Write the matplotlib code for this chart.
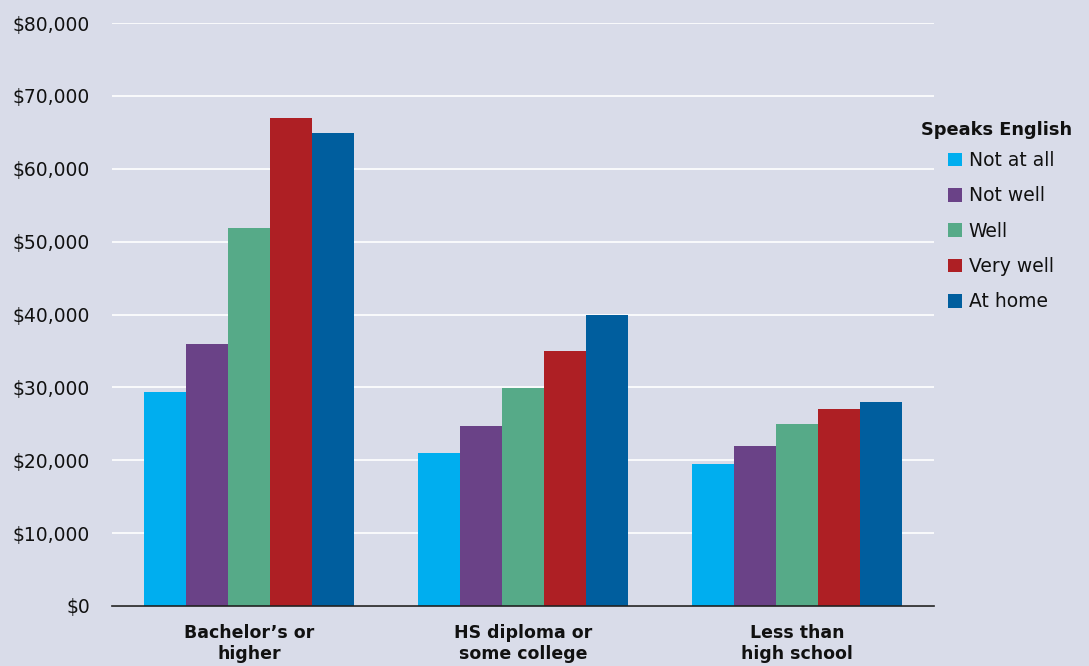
import numpy as np
import matplotlib
matplotlib.use("Agg")
import matplotlib.pyplot as plt
from matplotlib.patches import Patch

# median earnings by education and how well English is spoken
categories = ["Bachelor\u2019s or\nhigher", "HS diploma or\nsome college", "Less than\nhigh school"]
series = ["Not at all", "Not well", "Well", "Very well", "At home"]
not_at_all = [29400, 21000, 19500]
not_well = [35900, 24700, 21900]
well = [51900, 29900, 25000]
very_well = [66900, 35000, 27000]
at_home = [64900, 39900, 28000]
yticks = [0, 10000, 20000, 30000, 40000, 50000, 60000, 70000, 80000]

colors = ["#00aeef", "#6a4287", "#56aa88", "#ae1f24", "#005e9e"]
bg = "#d9dce9"

fig = plt.figure(figsize=(10.89, 6.66), dpi=100, facecolor=bg)
ax = fig.add_axes([112/1089, 1 - 606/666, (934-112)/1089, (606-23)/666])
ax.set_facecolor(bg)

values = [not_at_all, not_well, well, very_well, at_home]
x = np.arange(len(categories))
w = 0.1535
for i, (vals, c) in enumerate(zip(values, colors)):
    ax.bar(x + (i - 2) * w, vals, width=w, color=c, edgecolor="none", zorder=3)

ax.set_xlim(-0.5, 2.5)
ax.set_ylim(0, 80000)
ax.set_yticks(yticks)
ax.set_yticklabels(["${:,}".format(v) for v in yticks], fontsize=13.5, color="#111111")
ax.yaxis.grid(True, color="white", linewidth=1.2, zorder=0)
ax.tick_params(axis="y", length=0, pad=16)
ax.tick_params(axis="x", length=0, pad=13)
ax.set_xticks(x)
ax.set_xticklabels(categories, fontsize=12.5, fontweight="bold", color="#111111",
                   linespacing=1.2)
for s in ["top", "right", "left"]:
    ax.spines[s].set_visible(False)
ax.spines["bottom"].set_color("#222222")
ax.spines["bottom"].set_linewidth(1.2)
ax.spines["bottom"].set_zorder(4)

# legend title drawn on its own, entries indented under it
fig.text(921/1089, 1 - 130/666, "Speaks English", fontsize=12.8, fontweight="bold",
         color="#111111", ha="left", va="center")
handles = [Patch(facecolor=c, edgecolor="none") for c in colors]
leg = fig.legend(handles, series, loc="upper left",
                 bbox_to_anchor=(948/1089, 1 - 151/666), frameon=False,
                 borderpad=0, borderaxespad=0,
                 fontsize=13.5, handlelength=0.75, handleheight=0.75, handletextpad=0.35,
                 labelspacing=0.87)
for t in leg.get_texts():
    t.set_color("#111111")

fig.savefig("out.png", dpi=100, facecolor=bg)
